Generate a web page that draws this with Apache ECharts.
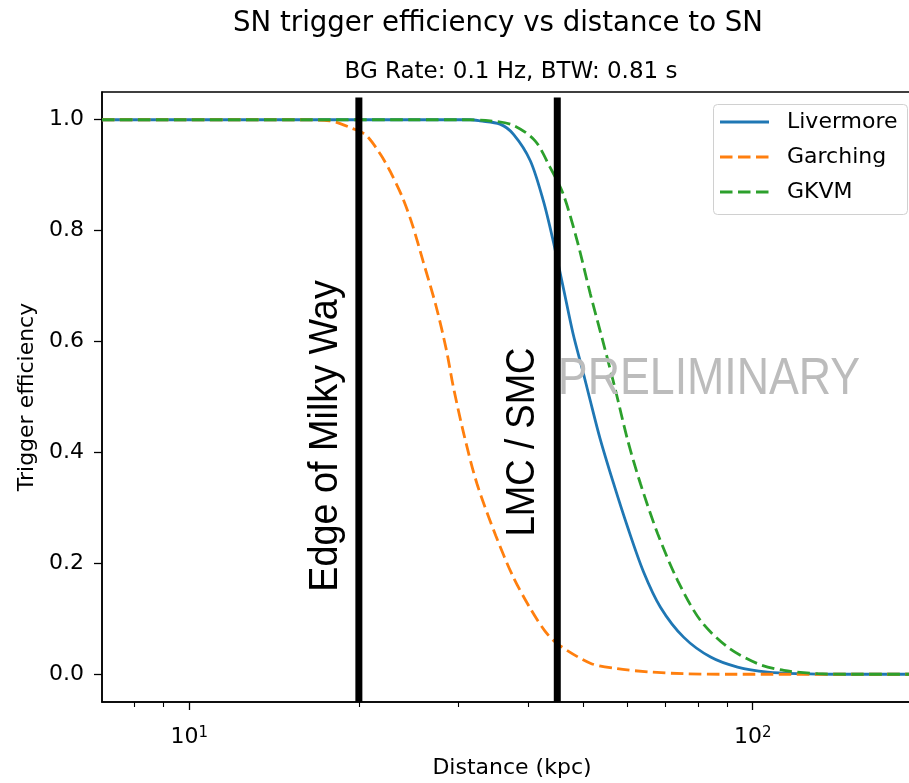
<!DOCTYPE html>
<html>
<head>
<meta charset="utf-8">
<script src="https://cdn.jsdelivr.net/npm/echarts@6/dist/echarts.min.js"></script>
<style>html,body{margin:0;padding:0;background:#fff;}#chart{width:909px;height:783px;}</style>
</head>
<body>
<div id="chart"></div>
<script>
// ---- data ----
const seriesNames = ['Livermore', 'Garching', 'GKVM'];
const distLivermore = [7, 20, 31.5, 32.8, 35.6, 37.6, 40.3, 42.5, 44.1, 46.1, 48.0, 50.0, 51.3, 53.6, 56.6, 60.0, 64.0, 68.6, 75.4, 84.2, 94.0, 106.4, 121.7, 140, 200];
const effLivermore  = [1, 1, 1.0, 0.998, 0.992, 0.974, 0.926, 0.854, 0.788, 0.698, 0.614, 0.545, 0.50, 0.425, 0.345, 0.265, 0.185, 0.121, 0.067, 0.031, 0.013, 0.004, 0.001, 0, 0];
const distGarching = [7, 15, 17.75, 19.5, 20.6, 21.8, 22.7, 23.9, 24.9, 26.0, 27.4, 28.6, 29.4, 30.7, 32.4, 35.0, 37.6, 40.5, 42.8, 45.0, 51.5, 57.5, 66, 75.4, 90, 200];
const effGarching  = [1, 1, 0.998, 0.984, 0.972, 0.939, 0.908, 0.86, 0.81, 0.745, 0.665, 0.585, 0.52, 0.434, 0.344, 0.25, 0.175, 0.115, 0.078, 0.055, 0.02, 0.010, 0.004, 0.001, 0, 0];
const distGKVM = [7, 25, 30.6, 34.2, 37.6, 41.1, 43.7, 46.1, 48.8, 51.5, 54.3, 57.0, 60.0, 63.2, 67.8, 73.6, 80.8, 90.3, 102.1, 113.6, 130.5, 150, 200];
const effGKVM  = [1, 1, 1.0, 0.998, 0.99, 0.962, 0.914, 0.866, 0.782, 0.686, 0.598, 0.515, 0.422, 0.344, 0.254, 0.169, 0.097, 0.049, 0.019, 0.007, 0.001, 0, 0];
const markerDist = [20, 45];          // Edge of Milky Way, LMC / SMC
const markerSpan = [-0.05, 1.04];
const xMajorTicks = [10, 100];
const xMinorTicks = [8, 9, 20, 30, 40, 50, 60, 70, 80, 90];
const yTicks = [0, 0.2, 0.4, 0.6, 0.8, 1.0];
const xRange = [7, 191];
const yRange = [-0.05, 1.05];

const colors = ['#1f77b4', '#ff7f0e', '#2ca02c'];
const dashes = [null, [12.5, 5.5], [12.5, 5.5]];
const FONT = 'DejaVu Sans';

function pairs(xs, ys) { return xs.map((x, i) => [x, ys[i]]); }

const chart = echarts.init(document.getElementById('chart'), null, {renderer: 'canvas'});

const curveData = [pairs(distLivermore, effLivermore), pairs(distGarching, effGarching), pairs(distGKVM, effGKVM)];
const curveSeries = curveData.map((data, i) => ({
  name: seriesNames[i], type: 'line', xAxisIndex: 0, yAxisIndex: 0,
  data: data, symbol: 'none', showSymbol: false,
  smooth: 0.3,
  lineStyle: {color: colors[i], width: 2.8, type: dashes[i] || 'solid', cap: 'butt'},
  itemStyle: {color: colors[i]},
  z: 2 + i, animation: false
}));

const markerSeries = markerDist.map(d => ({
  type: 'line', xAxisIndex: 0, yAxisIndex: 0, silent: true,
  data: [[d, markerSpan[0]], [d, markerSpan[1]]],
  symbol: 'none', lineStyle: {color: '#000', width: 7, cap: 'butt'}, z: 10, animation: false
}));

// hand-built legend (matplotlib style)
const legendTop = 104, legendLeft = 713, legendRowGap = 35;
const legendChildren = [
  {type: 'rect', shape: {x: legendLeft + 0.5, y: legendTop + 0.5, width: 194, height: 110, r: 4},
   style: {fill: 'rgba(255,255,255,0.85)', stroke: '#d0d0d0', lineWidth: 1}}
];
seriesNames.forEach((n, i) => {
  const cy = legendTop + 18 + i * legendRowGap;
  legendChildren.push({type: 'line', shape: {x1: legendLeft + 7, y1: cy, x2: legendLeft + 56, y2: cy},
    style: {stroke: colors[i], lineWidth: 2.8, lineDash: dashes[i] || null, lineCap: 'butt'}});
  legendChildren.push({type: 'text', x: legendLeft + 74, y: cy,
    style: {text: n, x: 0, y: 0, align: 'left', verticalAlign: 'middle', font: '22px "DejaVu Sans"', fill: '#000'}});
});

const option = {
  animation: false,
  backgroundColor: '#fff',
  title: [
    {text: 'SN trigger efficiency vs distance to SN', left: 493, top: 5, textAlign: 'center',
     textStyle: {fontFamily: FONT, fontSize: 27.6, fontWeight: 'normal', color: '#000'}},
    {text: 'BG Rate: 0.1 Hz, BTW: 0.81 s', left: 506, top: 56, textAlign: 'center',
     textStyle: {fontFamily: FONT, fontSize: 23, fontWeight: 'normal', color: '#000'}}
  ],
  grid: [
    {left: 102, top: 92, right: -2, bottom: 81, show: true, borderColor: '#000', borderWidth: 1.5,
     backgroundColor: 'transparent', outerBoundsMode: 'none', containLabel: false},
    {left: 102, top: 92, right: -2, bottom: 81, show: false, outerBoundsMode: 'none', containLabel: false}
  ],
  xAxis: [
    {type: 'log', logBase: 10, gridIndex: 0, min: xRange[0], max: xRange[1],
     axisLine: {show: true, onZero: false, lineStyle: {color: '#000', width: 1.5}},
     axisTick: {show: true, customValues: xMajorTicks, length: 8, lineStyle: {color: '#000', width: 1.3}},
     axisLabel: {customValues: xMajorTicks, margin: 24,
       formatter: v => '{b|10}{s|' + Math.round(Math.log10(v)) + '}',
       rich: {b: {fontFamily: FONT, fontSize: 22, color: '#000', verticalAlign: 'bottom'},
              s: {fontFamily: FONT, fontSize: 15, color: '#000', verticalAlign: 'top'}}},
     splitLine: {show: false}, minorTick: {show: false},
     name: 'Distance (kpc)', nameLocation: 'middle', nameGap: 55,
     nameTextStyle: {fontFamily: FONT, fontSize: 22, color: '#000', padding: [0, 0, 0, 11]}},
    {type: 'log', logBase: 10, gridIndex: 1, min: xRange[0], max: xRange[1],
     axisLine: {show: false, onZero: false},
     axisTick: {show: true, customValues: xMinorTicks, length: 5, lineStyle: {color: '#000', width: 1.1}},
     axisLabel: {show: false}, splitLine: {show: false}}
  ],
  yAxis: [
    {type: 'value', gridIndex: 0, min: yRange[0], max: yRange[1],
     axisLine: {show: true, onZero: false, lineStyle: {color: '#000', width: 1.5}},
     axisTick: {show: true, customValues: yTicks, length: 8, lineStyle: {color: '#000', width: 1.3}},
     axisLabel: {customValues: yTicks, margin: 18, formatter: v => v.toFixed(1),
       fontFamily: FONT, fontSize: 22, color: '#000'},
     splitLine: {show: false},
     name: 'Trigger efficiency', nameLocation: 'middle', nameGap: 62, nameRotate: 90,
     nameTextStyle: {fontFamily: FONT, fontSize: 22, color: '#000'}},
    {type: 'value', gridIndex: 1, min: yRange[0], max: yRange[1], show: false}
  ],
  graphic: [
    {type: 'text', x: 326, y: 436, rotation: Math.PI / 2, scaleX: 0.945, z: 100,
     style: {text: 'Edge of Milky Way', x: 0, y: 0, align: 'center', verticalAlign: 'middle',
             font: '40px "Liberation Sans"', fill: '#000'}},
    {type: 'text', x: 523, y: 442, rotation: Math.PI / 2, scaleX: 0.915, z: 100,
     style: {text: 'LMC / SMC', x: 0, y: 0, align: 'center', verticalAlign: 'middle',
             font: '40px "Liberation Sans"', fill: '#000'}},
    {type: 'text', x: 709, y: 380, scaleX: 0.86, z: 100,
     style: {text: 'PRELIMINARY', x: 0, y: 0, align: 'center', verticalAlign: 'middle',
             font: '52px "Liberation Sans"', fill: '#bcbcbc'}},
    {type: 'group', z: 120, children: legendChildren}
  ],
  series: curveSeries.concat(markerSeries)
};
chart.setOption(option);
</script>
</body>
</html>
